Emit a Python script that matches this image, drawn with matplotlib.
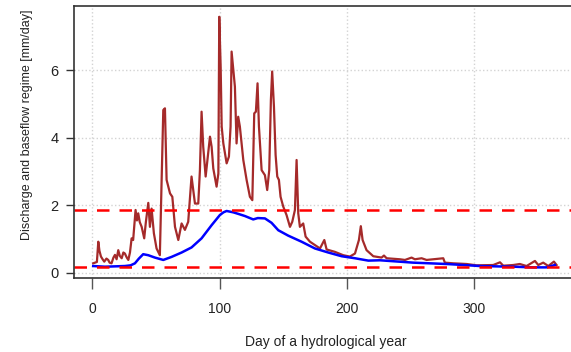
import numpy as np
import matplotlib
matplotlib.use('Agg')
import matplotlib.pyplot as plt

plt.rcParams['font.family'] = ['Liberation Sans', 'DejaVu Sans']

# discharge
q_day = [0.6, 3.5, 4.6, 5.5, 6.7, 8, 9.3, 11, 12.4, 13.5, 15, 16.5, 17.7, 19, 20.3, 21.5, 23,
         24.3, 25.5, 27, 28.2, 29.5, 30.8, 32, 33.9, 35, 36, 37.2, 38.7, 40.7, 42, 43.9, 45.2,
         46.5, 48.3, 50.4, 53, 54.4, 55.7, 57, 58.3, 61, 62.8, 64.9, 67.5, 70.1, 72.7, 75.3,
         77.9, 80.6, 83.2, 84.5, 85.8, 87.1, 89, 92.4, 93.7, 95, 97.6, 99, 99.7, 100.8, 101.6,
         102.9, 105.5, 107.3, 108.6, 109.4, 112, 113.3, 114.6, 115.9, 118.6, 121.2, 123.8,
         125.7, 127.2, 128.5, 129.8, 130.9, 133, 135.6, 137.4, 139, 140.3, 141.3, 142.7, 144,
         145.3, 146.6, 147.9, 150, 152.6, 155.3, 157.1, 159.2, 160.5, 161.8, 163.1, 165.7,
         167.6, 171, 174.9, 178.9, 182.3, 184.1, 190.6, 197.2, 202.4, 206.4, 209.5, 211,
         212.4, 215.5, 220.8, 227.3, 229.2, 231.3, 241.7, 245.7, 250.9, 253.5, 258.8, 262.7,
         268, 275.8, 277.1, 283.7, 294.2, 302, 315.1, 320.4, 323, 330.8, 336, 341.3, 347.9,
         350.5, 354.4, 358.4, 362.8, 364.9]
q_val = [0.28, 0.32, 0.92, 0.65, 0.48, 0.40, 0.33, 0.42, 0.38, 0.30, 0.28, 0.45, 0.53, 0.40,
         0.67, 0.50, 0.43, 0.60, 0.57, 0.45, 0.38, 0.60, 1.02, 0.97, 1.86, 1.55, 1.76, 1.50,
         1.36, 1.02, 1.50, 2.07, 1.36, 1.90, 1.17, 0.72, 0.52, 2.70, 4.82, 4.87, 2.75, 2.35,
         2.25, 1.36, 0.97, 1.46, 1.27, 1.51, 2.85, 2.05, 2.05, 3.04, 4.77, 3.73, 2.85, 4.03,
         3.73, 3.09, 2.55, 2.94, 7.58, 6.10, 4.33, 3.83, 3.24, 3.44, 4.33, 6.55, 5.51, 3.83,
         4.62, 4.33, 3.34, 2.75, 2.25, 2.15, 4.72, 4.77, 5.61, 4.33, 3.04, 2.89, 2.45, 3.04,
         5.12, 5.96, 4.92, 3.49, 2.85, 2.75, 2.25, 1.96, 1.71, 1.36, 1.51, 1.86, 3.34, 1.76,
         1.36, 1.46, 1.07, 0.92, 0.82, 0.72, 0.97, 0.69, 0.62, 0.52, 0.48, 0.57, 0.97, 1.38,
         0.97, 0.67, 0.49, 0.45, 0.51, 0.43, 0.40, 0.38, 0.45, 0.40, 0.43, 0.38, 0.40, 0.43,
         0.30, 0.28, 0.26, 0.22, 0.23, 0.31, 0.21, 0.23, 0.26, 0.20, 0.35, 0.23, 0.30, 0.20,
         0.33, 0.23]

# baseflow
b_day = [0.6, 9.8, 25.5, 30, 33.4, 36.5, 39.9, 43.9, 49.1, 55.7, 62.2, 70.1, 77.9, 85.8, 93.7,
         100.2, 103, 105.5, 110.7, 115, 119.9, 126.4, 130, 135.6, 140.8, 146.1, 153.9, 164.4,
         174.9, 185.4, 195.9, 206.4, 216.9, 226, 252.2, 278.4, 304.6, 330.8, 346.5, 357,
         363.6]
b_val = [0.20, 0.18, 0.20, 0.22, 0.28, 0.42, 0.55, 0.52, 0.45, 0.38, 0.47, 0.60, 0.75, 1.02,
         1.41, 1.71, 1.79, 1.83, 1.79, 1.74, 1.68, 1.58, 1.62, 1.61, 1.48, 1.26, 1.10, 0.92,
         0.72, 0.60, 0.49, 0.43, 0.36, 0.37, 0.30, 0.26, 0.20, 0.18, 0.16, 0.16, 0.23]

# horizontal thresholds
levels = [1.86, 0.17]

fig = plt.figure(figsize=(5.71, 3.52), dpi=100)
ax = fig.add_axes([0.1296, 0.210, 0.881, 0.773])

ax.grid(True, color='#d3d3d3', linestyle=':', linewidth=1)
ax.set_axisbelow(True)
ax.plot(q_day, q_val, color='#a52a2a', lw=1.6)
ax.plot(b_day, b_val, color='#0000ff', lw=1.8)
for lv in levels:
    ax.axhline(lv, color='#ff0000', lw=1.8, ls=(0, (5, 4)))

ax.set_xlim(-14.5, 381)
ax.set_ylim(-0.157, 7.90)
ax.set_xticks([0, 100, 200, 300])
ax.set_yticks([0, 2, 4, 6])
ax.spines['right'].set_visible(False)
for s in ['left', 'bottom', 'top']:
    ax.spines[s].set_color('#333333')
    ax.spines[s].set_linewidth(1.2)
ax.tick_params(axis='x', length=8, width=1, color='#555555', labelsize=10, pad=9, labelcolor='#222222')
ax.tick_params(axis='y', length=6, width=1, color='#333333', labelsize=10.5, pad=5, labelcolor='#222222')

ax.set_xlabel('Day of a hydrological year', fontsize=10, labelpad=14, color='#222222')
ax.set_ylabel('Discharge and baseflow regime [mm/day]', fontsize=9.0, color='#222222')
ax.yaxis.set_label_coords(-0.082, 0.565)

fig.savefig('out.png', dpi=100)
